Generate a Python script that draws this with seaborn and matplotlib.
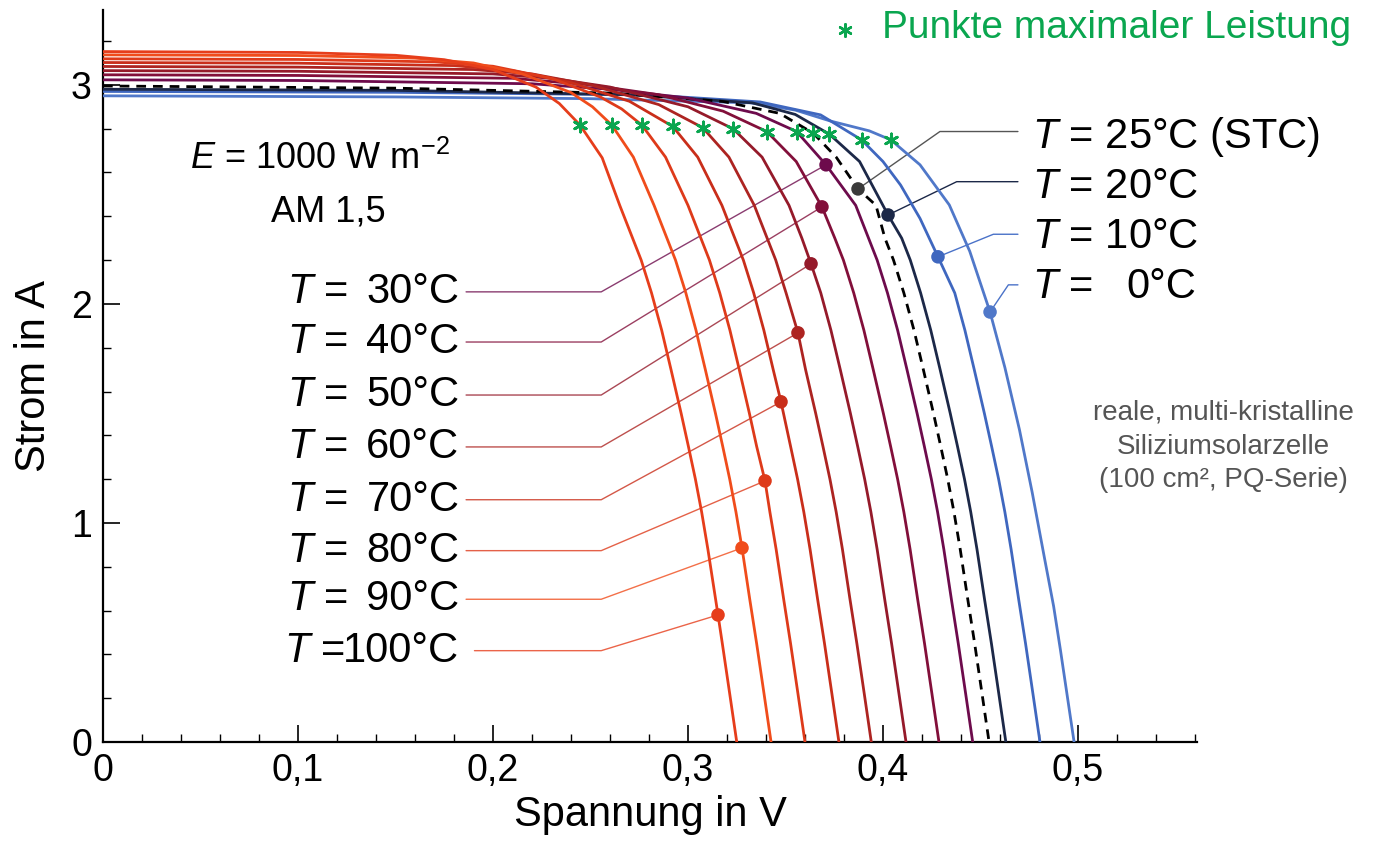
import numpy as np
import pandas as pd
import matplotlib
matplotlib.use("Agg")
import matplotlib.pyplot as plt
from matplotlib.ticker import MultipleLocator, FuncFormatter
import seaborn as sns

# I-V curves (voltage in V, current in A)
temps = [100, 90, 80, 70, 60, 50, 40, 30, 25, 20, 10, 0]

v_100 = [0, 0.10, 0.15, 0.175, 0.20, 0.222, 0.234, 0.2446, 0.256, 0.265, 0.2716, 0.276, 0.2813, 0.2865,
         0.2913, 0.2965, 0.3002, 0.3038, 0.307, 0.3102, 0.3154, 0.3176, 0.3214, 0.325]
i_100 = [3.152, 3.148, 3.135, 3.115, 3.07, 2.99, 2.915, 2.817, 2.667, 2.45, 2.3, 2.2, 2.05, 1.88,
         1.7, 1.5, 1.35, 1.2, 1.05, 0.88, 0.58, 0.45, 0.22, 0]
v_90 = [0, 0.10, 0.16, 0.19, 0.215, 0.24, 0.251, 0.2609, 0.272, 0.2826, 0.2892, 0.2936, 0.2989, 0.3041,
        0.3089, 0.3141, 0.3178, 0.3214, 0.3246, 0.3277, 0.3317, 0.3352, 0.339, 0.3426]
i_90 = [3.137, 3.134, 3.122, 3.10, 3.05, 2.965, 2.9, 2.817, 2.67, 2.45, 2.3, 2.2, 2.05, 1.88,
        1.7, 1.5, 1.35, 1.2, 1.05, 0.886, 0.65, 0.45, 0.22, 0]
v_80 = [0, 0.10, 0.17, 0.20, 0.23, 0.255, 0.266, 0.2763, 0.2885, 0.300, 0.3066, 0.311, 0.3163, 0.3215,
        0.3263, 0.3315, 0.3352, 0.3395, 0.342, 0.3452, 0.3491, 0.3526, 0.3564, 0.360]
i_80 = [3.119, 3.116, 3.105, 3.085, 3.03, 2.945, 2.89, 2.817, 2.67, 2.45, 2.3, 2.2, 2.05, 1.88,
        1.7, 1.5, 1.35, 1.192, 1.05, 0.88, 0.65, 0.45, 0.22, 0]
v_70 = [0, 0.10, 0.18, 0.21, 0.24, 0.27, 0.2922, 0.305, 0.3174, 0.324, 0.3284, 0.3337, 0.3389, 0.3437,
        0.3477, 0.3526, 0.3562, 0.3594, 0.3626, 0.3665, 0.370, 0.3738, 0.3774]
i_70 = [3.102, 3.099, 3.088, 3.065, 3.01, 2.925, 2.81, 2.67, 2.45, 2.3, 2.2, 2.05, 1.88, 1.7,
        1.553, 1.35, 1.2, 1.05, 0.88, 0.65, 0.45, 0.22, 0]
v_60 = [0, 0.10, 0.19, 0.22, 0.25, 0.285, 0.3075, 0.321, 0.334, 0.3406, 0.345, 0.3503, 0.3564, 0.3603,
        0.3655, 0.3692, 0.3728, 0.376, 0.3792, 0.3831, 0.3866, 0.3904, 0.394]
i_60 = [3.084, 3.081, 3.07, 3.05, 3.0, 2.91, 2.805, 2.67, 2.45, 2.3, 2.2, 2.05, 1.868, 1.7,
        1.5, 1.35, 1.2, 1.05, 0.88, 0.65, 0.45, 0.22, 0]
v_50 = [0, 0.10, 0.20, 0.23, 0.26, 0.30, 0.3232, 0.338, 0.3518, 0.3584, 0.3631, 0.3681, 0.3733, 0.3781,
        0.3833, 0.387, 0.3906, 0.3938, 0.397, 0.4009, 0.4044, 0.4082, 0.4118]
i_50 = [3.065, 3.062, 3.05, 3.03, 2.99, 2.90, 2.799, 2.67, 2.45, 2.3, 2.183, 2.05, 1.88, 1.7,
        1.5, 1.35, 1.2, 1.05, 0.88, 0.65, 0.45, 0.22, 0]
v_40 = [0, 0.10, 0.21, 0.25, 0.285, 0.318, 0.3404, 0.3555, 0.3687, 0.3753, 0.3797, 0.385, 0.3902, 0.395,
        0.4002, 0.4039, 0.4075, 0.4107, 0.4139, 0.4178, 0.4213, 0.4251, 0.4287]
i_40 = [3.046, 3.043, 3.03, 3.0, 2.955, 2.88, 2.787, 2.65, 2.443, 2.3, 2.2, 2.05, 1.88, 1.7,
        1.5, 1.35, 1.2, 1.05, 0.88, 0.65, 0.45, 0.22, 0]
v_30 = [0, 0.10, 0.22, 0.26, 0.30, 0.335, 0.3557, 0.3708, 0.386, 0.3926, 0.397, 0.4023, 0.4075, 0.4123,
        0.4175, 0.4212, 0.4248, 0.428, 0.4312, 0.4351, 0.4386, 0.4424, 0.446]
i_30 = [3.023, 3.02, 3.005, 2.98, 2.94, 2.87, 2.787, 2.635, 2.45, 2.3, 2.2, 2.05, 1.88, 1.7,
        1.5, 1.35, 1.2, 1.05, 0.88, 0.65, 0.45, 0.22, 0]
v_25 = [0, 0.15, 0.263, 0.318, 0.347, 0.3643, 0.376, 0.3872, 0.3964, 0.401, 0.4054, 0.4107, 0.4159, 0.4207,
        0.4259, 0.4296, 0.4332, 0.4364, 0.4396, 0.4435, 0.447, 0.4508, 0.4544]
i_25 = [2.995, 2.985, 2.962, 2.924, 2.87, 2.779, 2.67, 2.525, 2.45, 2.3, 2.2, 2.05, 1.88, 1.7,
        1.5, 1.35, 1.2, 1.05, 0.88, 0.65, 0.45, 0.22, 0]
v_20 = [0, 0.15, 0.27, 0.333, 0.355, 0.3725, 0.388, 0.4026, 0.4096, 0.414, 0.4193, 0.4245, 0.4293,
        0.4345, 0.4382, 0.4418, 0.445, 0.4482, 0.4521, 0.4556, 0.4594, 0.463]
i_20 = [2.98, 2.975, 2.955, 2.918, 2.865, 2.775, 2.65, 2.406, 2.3, 2.2, 2.05, 1.88, 1.7,
        1.5, 1.35, 1.2, 1.05, 0.88, 0.65, 0.45, 0.22, 0]
v_10 = [0, 0.15, 0.28, 0.337, 0.368, 0.389, 0.40, 0.409, 0.419, 0.4282, 0.4368, 0.442, 0.4468, 0.452,
        0.4557, 0.4593, 0.4625, 0.4657, 0.4696, 0.4731, 0.4769, 0.4805]
i_10 = [2.97, 2.966, 2.954, 2.922, 2.863, 2.749, 2.65, 2.543, 2.39, 2.215, 2.05, 1.88, 1.7, 1.5,
        1.35, 1.2, 1.05, 0.88, 0.65, 0.45, 0.22, 0]
v_0 = [0, 0.15, 0.25, 0.332, 0.355, 0.373, 0.393, 0.404, 0.419, 0.434, 0.4445, 0.4549, 0.4625, 0.470,
       0.4765, 0.483, 0.4875, 0.491, 0.4945, 0.498]
i_0 = [2.95, 2.945, 2.937, 2.918, 2.885, 2.835, 2.79, 2.749, 2.635, 2.452, 2.24, 1.963, 1.71, 1.425,
       1.14, 0.831, 0.62, 0.42, 0.21, 0]

volts = [v_100, v_90, v_80, v_70, v_60, v_50, v_40, v_30, v_25, v_20, v_10, v_0]
currents = [i_100, i_90, i_80, i_70, i_60, i_50, i_40, i_30, i_25, i_20, i_10, i_0]

# maximum power points (green asterisks)
mpp_v = [0.2446, 0.2609, 0.2763, 0.2922, 0.3075, 0.3232, 0.3404, 0.3557, 0.3643, 0.3725, 0.389, 0.404]
mpp_i = [2.817, 2.817, 2.817, 2.810, 2.805, 2.799, 2.787, 2.787, 2.779, 2.775, 2.749, 2.749]

# points where the labels attach
dot_v = [0.3154, 0.3277, 0.3395, 0.3477, 0.3564, 0.3631, 0.3687, 0.3708, 0.3872, 0.4026, 0.4282, 0.4549]
dot_i = [0.580, 0.886, 1.192, 1.553, 1.868, 2.183, 2.443, 2.635, 2.525, 2.406, 2.215, 1.963]

colors = ["#e63d1b", "#f04c1b", "#de3a1a", "#c92e1a", "#ad2421", "#951a2a", "#820f3a",
          "#6d0b4c", "#000000", "#1c2848", "#3f67bf", "#5078c9"]
dot_colors = colors[:8] + ["#3a3a3a"] + colors[9:]

left_temps = [30, 40, 50, 60, 70, 80, 90, 100]
left_text = ["30°C", "40°C", "50°C", "60°C", "70°C", "80°C", "90°C", "100°C"]
left_y = [2.055, 1.826, 1.584, 1.347, 1.106, 0.8735, 0.6516, 0.4169]

right_temps = [25, 20, 10, 0]
right_text = ["25°C (STC)", "20°C", "10°C", "0°C"]
right_line_y = [2.787, 2.558, 2.318, 2.087]
right_corner_v = [0.4292, 0.4378, 0.4566, 0.4643]
right_text_y = [2.764, 2.535, 2.307, 2.079]

note_lines = ["reale, multi-kristalline", "Siliziumsolarzelle", "(100 cm², PQ-Serie)"]
note_y = [1.502, 1.347, 1.196]

# long table for seaborn
rows = []
for t, vs, cs in zip(temps, volts, currents):
    for v, c in zip(vs, cs):
        rows.append((t, v, c))
df = pd.DataFrame(rows, columns=["T", "V", "I"])

sns.set_style("ticks")
plt.rcParams["font.family"] = ["Liberation Sans", "DejaVu Sans"]
plt.rcParams["mathtext.fontset"] = "custom"
plt.rcParams["mathtext.rm"] = "Liberation Sans"
plt.rcParams["mathtext.it"] = "Liberation Sans:italic"
for key in ["text.color", "axes.labelcolor", "xtick.color", "ytick.color", "axes.edgecolor"]:
    plt.rcParams[key] = "black"

fig = plt.figure(figsize=(13.75, 8.51), dpi=100)
ax = fig.add_axes([0.0749, 0.1281, 0.7956, 0.8602])

palette = dict(zip(temps, colors))
dashes = {t: "" for t in temps}
dashes[25] = (3.5, 2.5)
sns.lineplot(data=df, x="V", y="I", hue="T", style="T", palette=palette, dashes=dashes,
             sort=False, estimator=None, linewidth=2.0, legend=False, ax=ax, zorder=3,
             solid_joinstyle="round")

# leader lines and labels
idx = {t: k for k, t in enumerate(temps)}
for t, y, lab in zip(left_temps, left_y, left_text):
    k = idx[t]
    x0 = 0.1905 if t == 100 else 0.1862
    ax.plot([x0, 0.2555, dot_v[k]], [y, y, dot_i[k]], color=colors[k], lw=1.0, alpha=0.8, zorder=2)
    ax.text(0.0928 if t == 100 else 0.0946, y, "$T$ =", fontsize=30, ha="left", va="center")
    ax.text(0.1828, y, lab, fontsize=30, ha="right", va="center")

leader_right = ["#555555", "#1c2848", "#4a72c8", "#4a72c8"]
for j, t in enumerate(right_temps):
    k = idx[t]
    ax.plot([dot_v[k], right_corner_v[j], 0.4692], [dot_i[k], right_line_y[j], right_line_y[j]],
            color=leader_right[j], lw=1.0, zorder=2)
    if t == 0:
        ax.text(0.4765, right_text_y[j], "$T$ =", fontsize=30, ha="left", va="center")
        ax.text(0.5605, right_text_y[j], right_text[j], fontsize=30, ha="right", va="center")
    else:
        ax.text(0.4765, right_text_y[j], "$T$ = " + right_text[j], fontsize=30, ha="left", va="center")

sns.scatterplot(x=dot_v, y=dot_i, hue=temps, palette=dict(zip(temps, dot_colors)),
                s=95, linewidth=0, legend=False, ax=ax, zorder=5)
sns.scatterplot(x=mpp_v, y=mpp_i, color="#0aa64f", marker=(6, 2, 0), s=90,
                linewidth=2.0, edgecolor="#0aa64f", legend=False, ax=ax, zorder=6)

# legend for the asterisks
ax.scatter([0.3805], [3.25], color="#0aa64f", marker=(6, 2, 0), s=80, linewidth=1.8, zorder=6)
ax.text(0.3995, 3.26, "Punkte maximaler Leistung", color="#0aa64f", fontsize=28, ha="left", va="center")

ax.text(0.1113, 2.66, "$E$ = 1000 W m$^{-2}$", fontsize=26, ha="center", va="center")
ax.text(0.1154, 2.42, "AM 1,5", fontsize=26, ha="center", va="center")

for line, y in zip(note_lines, note_y):
    ax.text(0.5745, y, line, fontsize=20, color="#555555", ha="center", va="center")

ax.set_xlim(0, 0.561)
ax.set_ylim(0, 3.342)
ax.xaxis.set_major_locator(MultipleLocator(0.1))
ax.xaxis.set_minor_locator(MultipleLocator(0.02))
ax.yaxis.set_major_locator(MultipleLocator(1))
ax.yaxis.set_minor_locator(MultipleLocator(0.2))
ax.xaxis.set_major_formatter(FuncFormatter(lambda v, p: ("%g" % round(v, 2)).replace(".", ",")))
ax.yaxis.set_major_formatter(FuncFormatter(lambda v, p: "%d" % round(v)))
ax.tick_params(which="major", direction="in", length=12, width=1.2, labelsize=27, pad=8)
ax.tick_params(which="minor", direction="in", length=6, width=1.0)
ax.set_xlabel("Spannung in V", fontsize=30, labelpad=4)
ax.set_ylabel("Strom in A", fontsize=30, labelpad=12)
sns.despine(ax=ax)
for s in ["left", "bottom"]:
    ax.spines[s].set_linewidth(1.6)

fig.savefig("out.png", dpi=100)
